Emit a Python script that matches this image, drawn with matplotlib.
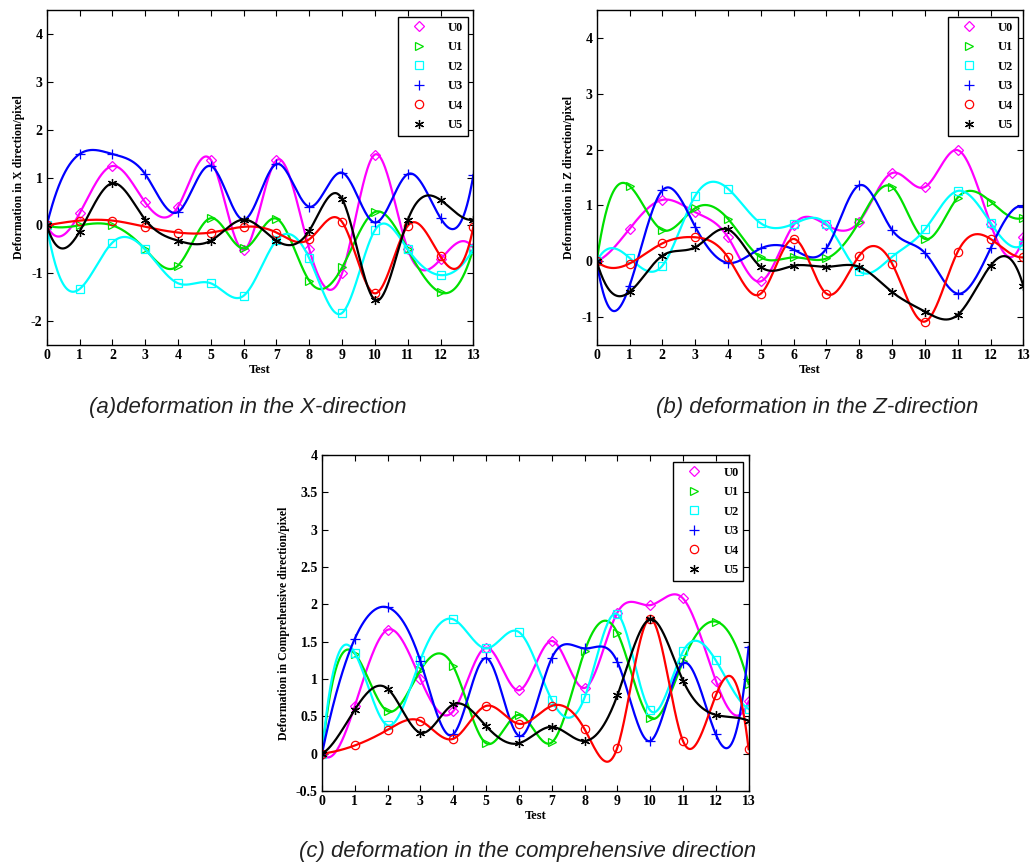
import numpy as np
import matplotlib.pyplot as plt
from matplotlib.lines import Line2D

tests = np.arange(14)
names = ['U0', 'U1', 'U2', 'U3', 'U4', 'U5']

# (a) deformation in X direction
x_u0 = [0, 0.25, 1.24, 0.48, 0.39, 1.37, -0.51, 1.36, -0.50, -1.00, 1.48, -0.50, -0.71, -0.48]
x_u1 = [0, 0.00, 0.00, -0.50, -0.84, 0.15, -0.48, 0.14, -1.16, -0.88, 0.28, -0.50, -1.40, -0.48]
x_u2 = [0, -1.33, -0.36, -0.50, -1.21, -1.21, -1.47, -0.31, -0.69, -1.83, -0.10, -0.50, -1.04, -0.49]
x_u3 = [0, 1.49, 1.49, 1.07, 0.28, 1.24, 0.12, 1.28, 0.39, 1.10, 0.06, 1.07, 0.15, 1.05]
x_u4 = [0, 0.10, 0.10, -0.03, -0.15, -0.15, -0.03, -0.15, -0.29, 0.07, -1.42, -0.01, -0.65, -0.03]
x_u5 = [0, -0.13, 0.88, 0.12, -0.32, -0.32, 0.12, -0.32, -0.11, 0.55, -1.56, 0.11, 0.53, 0.12]

# (b) deformation in Z direction
z_u0 = [0, 0.58, 1.10, 0.88, 0.43, -0.36, 0.65, 0.65, 0.71, 1.58, 1.33, 1.99, 0.67, 0.44]
z_u1 = [0, 1.35, 0.56, 0.95, 0.76, 0.07, 0.07, 0.05, 0.71, 1.33, 0.40, 1.14, 1.07, 0.78]
z_u2 = [0, 0.06, -0.08, 1.17, 1.30, 0.68, 0.67, 0.67, -0.18, 0.08, 0.57, 1.26, 0.69, 0.30]
z_u3 = [0, -0.44, 1.27, 0.62, -0.03, 0.23, 0.21, 0.23, 1.36, 0.56, 0.15, -0.58, 0.23, 0.98]
z_u4 = [0, -0.04, 0.32, 0.43, 0.07, -0.58, 0.40, -0.58, 0.10, -0.04, -1.08, 0.17, 0.40, 0.07]
z_u5 = [0, -0.55, 0.10, 0.25, 0.57, -0.10, -0.08, -0.10, -0.10, -0.55, -0.90, -0.96, -0.08, -0.44]

# (c) deformation in comprehensive direction
c_u0 = [0, 0.64, 1.66, 1.00, 0.57, 1.42, 0.85, 1.51, 0.88, 1.89, 1.99, 2.08, 0.98, 0.70]
c_u1 = [0, 1.34, 0.57, 1.12, 1.17, 0.14, 0.52, 0.15, 1.37, 1.62, 0.48, 1.24, 1.77, 0.93]
c_u2 = [0, 1.35, 0.38, 1.26, 1.80, 1.41, 1.63, 0.72, 0.75, 1.87, 0.58, 1.37, 1.25, 0.60]
c_u3 = [0, 1.54, 1.96, 1.24, 0.26, 1.28, 0.24, 1.28, 1.41, 1.23, 0.17, 1.21, 0.26, 1.43]
c_u4 = [0, 0.11, 0.32, 0.44, 0.20, 0.64, 0.40, 0.64, 0.33, 0.08, 1.81, 0.17, 0.78, 0.06]
c_u5 = [0, 0.59, 0.87, 0.28, 0.66, 0.37, 0.14, 0.36, 0.17, 0.78, 1.80, 0.98, 0.52, 0.44]

colors = ['#ff00ff', '#00e000', '#00ffff', '#0000ff', '#ff0000', '#000000']
markers = ['D', '>', 's', '+', 'o', (6, 2, 0)]
msizes = [5.5, 6, 6, 7, 6, 6.5]


def spline(x, y, xs):
    # cubic spline with not-a-knot ends (like MATLAB spline)
    x = np.asarray(x, float)
    y = np.asarray(y, float)
    n = len(x)
    h = np.diff(x)
    A = np.zeros((n, n))
    r = np.zeros(n)
    A[0, 0], A[0, 1], A[0, 2] = h[1], -(h[0] + h[1]), h[0]
    A[-1, -3], A[-1, -2], A[-1, -1] = h[-1], -(h[-2] + h[-1]), h[-2]
    for i in range(1, n - 1):
        A[i, i - 1] = h[i - 1]
        A[i, i] = 2 * (h[i - 1] + h[i])
        A[i, i + 1] = h[i]
        r[i] = 6 * ((y[i + 1] - y[i]) / h[i] - (y[i] - y[i - 1]) / h[i - 1])
    M = np.linalg.solve(A, r)
    idx = np.clip(np.searchsorted(x, xs) - 1, 0, n - 2)
    t = xs - x[idx]
    hh = h[idx]
    b = (y[idx + 1] - y[idx]) / hh - hh * (2 * M[idx] + M[idx + 1]) / 6
    return y[idx] + b * t + M[idx] / 2 * t ** 2 + (M[idx + 1] - M[idx]) / (6 * hh) * t ** 3


serif = 'Liberation Serif'
fig = plt.figure(figsize=(10.32, 8.68), dpi=100)

panels = [
    ([0.0453, 0.6025, 0.4134, 0.386], [x_u0, x_u1, x_u2, x_u3, x_u4, x_u5],
     (-2.5, 4.5), [-2, -1, 0, 1, 2, 3, 4], 'Deformation in X direction/pixel'),
    ([0.5782, 0.6025, 0.4134, 0.386], [z_u0, z_u1, z_u2, z_u3, z_u4, z_u5],
     (-1.5, 4.5), [-1, 0, 1, 2, 3, 4], 'Deformation in Z direction/pixel'),
    ([0.312, 0.0887, 0.4134, 0.387], [c_u0, c_u1, c_u2, c_u3, c_u4, c_u5],
     (-0.5, 4.0), [-0.5, 0, 0.5, 1, 1.5, 2, 2.5, 3, 3.5, 4],
     'Deformation in Comprehensive direction/pixel'),
]

xs = np.linspace(0, 13, 600)
for rect, series, ylim, yticks, ylabel in panels:
    ax = fig.add_axes(rect)
    for vals, c, m, ms in zip(series, colors, markers, msizes):
        ax.plot(xs, spline(tests, vals, xs), color=c, lw=1.6)
        ax.plot(tests, vals, ls='none', marker=m, ms=ms, mfc='none', mec=c, mew=0.9)
    ax.set_xlim(0, 13)
    ax.set_ylim(*ylim)
    ax.set_xticks(tests)
    ax.set_yticks(yticks)
    ax.set_yticklabels(['%g' % v for v in yticks])
    ax.tick_params(direction='in', top=True, right=True, length=4, width=0.8,
                   labelsize=10, pad=3)
    for lab in ax.get_xticklabels() + ax.get_yticklabels():
        lab.set_fontfamily(serif)
        lab.set_fontweight('bold')
    for s in ax.spines.values():
        s.set_linewidth(1.0)
    ax.set_xlabel('Test', fontfamily=serif, fontweight='bold', fontsize=9, labelpad=1)
    ax.set_ylabel(ylabel, fontfamily=serif, fontweight='bold', fontsize=8.5, labelpad=4)
    handles = [Line2D([], [], ls='none', marker=m, ms=ms, mfc='none', mec=c, mew=0.9)
               for c, m, ms in zip(colors, markers, msizes)]
    leg = ax.legend(handles, names, loc='upper right', bbox_to_anchor=(0.988, 0.98),
                    prop={'family': serif, 'weight': 'bold', 'size': 9},
                    frameon=True, fancybox=False, edgecolor='black', framealpha=1,
                    handlelength=2.6, handletextpad=1.0, labelspacing=0.6,
                    borderpad=0.4, borderaxespad=0)
    leg.get_frame().set_linewidth(1.0)

cap = dict(fontsize=16, style='italic', fontfamily='Liberation Sans', color='#222222',
           ha='center', va='center')
fig.text(248 / 1032, 1 - 408 / 868, '(a)deformation in the X-direction', **cap)
fig.text(817 / 1032, 1 - 408 / 868, '(b) deformation in the Z-direction', **cap)
fig.text(528 / 1032, 1 - 852 / 868, '(c) deformation in the comprehensive direction', **cap)

fig.savefig('out.png', dpi=100)
